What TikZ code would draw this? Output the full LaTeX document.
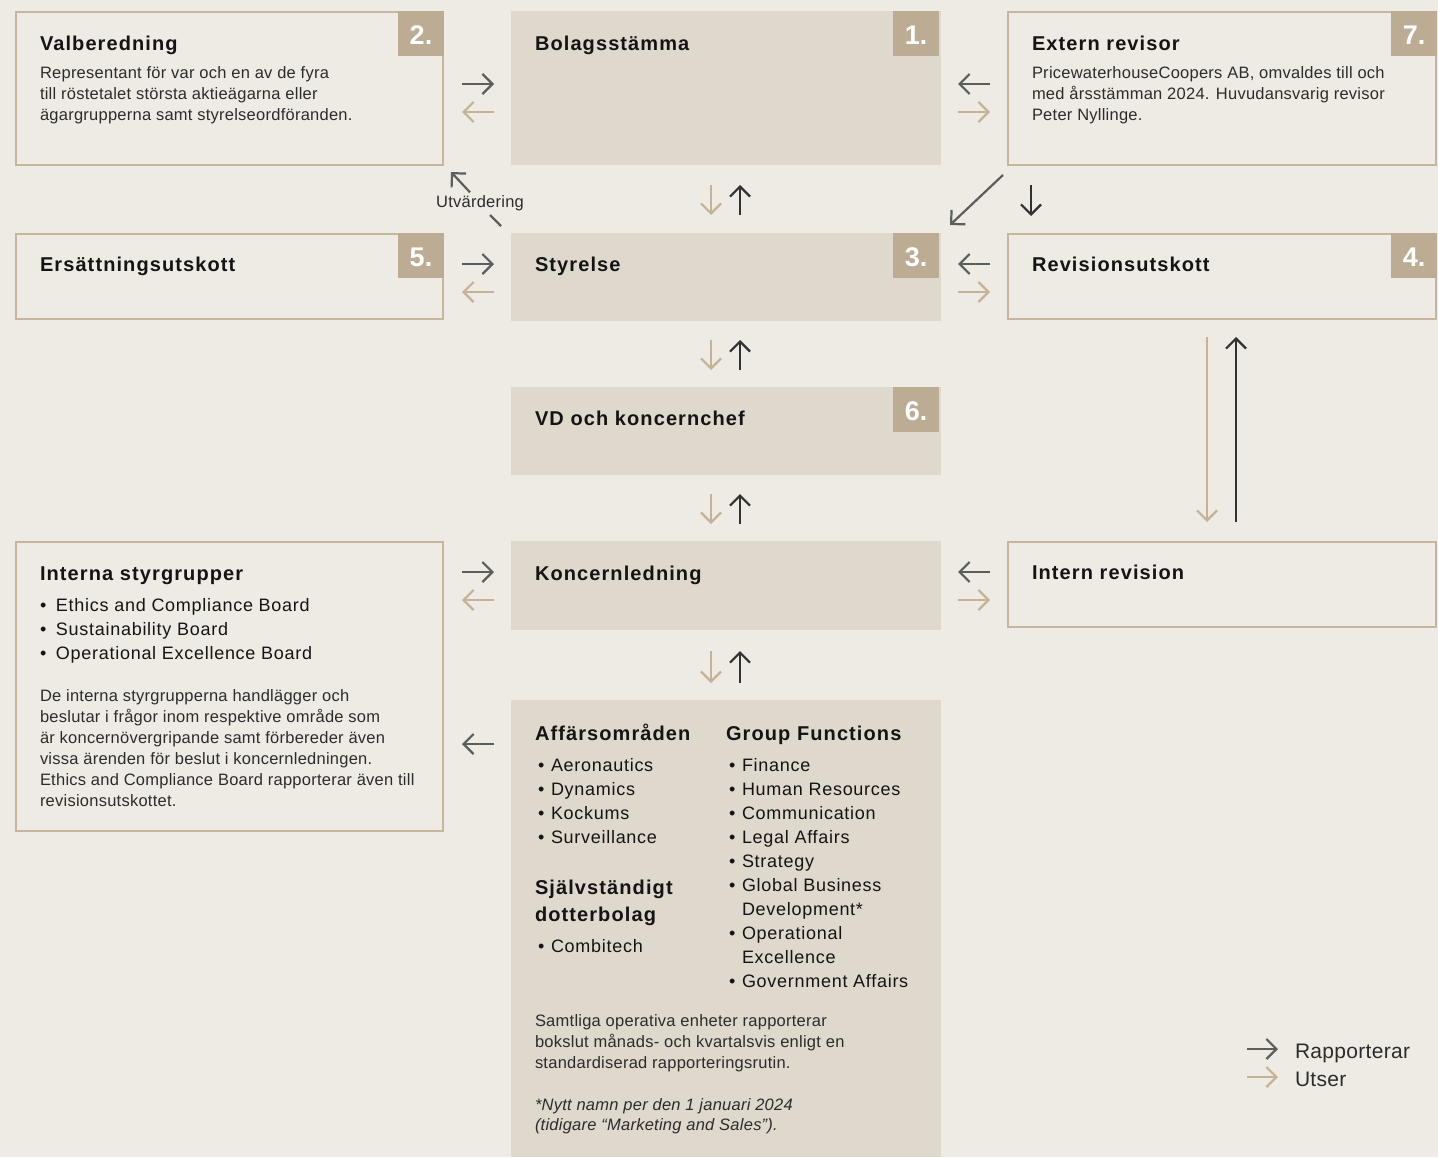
\documentclass[tikz,border=0pt]{standalone}
\usepackage{fontspec}
\setmainfont{Liberation Sans}
\newfontfamily\bodyf[LetterSpace=1.5]{Liberation Sans}
\newfontfamily\listf[LetterSpace=4]{Liberation Sans}
\newfontfamily\ttlf[LetterSpace=5.5]{Liberation Sans}
\usetikzlibrary{arrows.meta,calc}
\definecolor{bgc}{HTML}{EEEBE5}
\definecolor{fillc}{HTML}{DED8CD}
\definecolor{borderc}{HTML}{C6B69D}
\definecolor{badgec}{HTML}{BCAC93}
\definecolor{repc}{HTML}{5A5E5D}
\definecolor{repdark}{HTML}{303131}
\definecolor{ovsc}{HTML}{C4B397}
\definecolor{ttlc}{HTML}{141414}
\definecolor{bodyc}{HTML}{2C2C2C}
\newcommand\bul[1][14pt]{\makebox[#1][l]{\textbullet}}
\begin{document}
\begin{tikzpicture}[x=1pt,y=-1pt,
 every node/.style={inner sep=0pt,outer sep=0pt},
 obox/.style={draw=borderc,line width=2pt,fill=bgc,anchor=north west,minimum width=427pt},
 fbox/.style={fill=fillc,anchor=north west,minimum width=430pt},
 badge/.style={fill=badgec,text=white,anchor=north east,minimum width=46pt,minimum height=45pt,text height=22pt,text depth=0pt,font=\fontsize{27}{27}\selectfont\bfseries},
 ttl/.style={anchor=base west,text=ttlc,font=\ttlf\fontsize{20}{27}\selectfont\bfseries},
 body/.style={anchor=north west,align=left,text=bodyc,font=\bodyf\fontsize{16.5}{21}\selectfont},
 lst/.style={anchor=north west,align=left,text=ttlc,font=\listf\fontsize{18}{24}\selectfont},
 rep/.style={draw=repc,line width=2.2pt,-{Straight Barb[length=10pt,width=20pt]}},
 repd/.style={rep,draw=repdark},
 ovs/.style={rep,draw=ovsc},
]
\useasboundingbox[fill=bgc] (0,0) rectangle (1438,1157);

% ---- boxes
\node[obox,minimum height=153pt] (valb) at (16,12) {};
\node[fbox,minimum height=154pt] (bolag) at (511,11) {};
\node[obox,minimum width=428pt,minimum height=153pt] (extern) at (1008,12) {};
\node[obox,minimum height=85pt] (ers) at (16,234) {};
\node[fbox,minimum height=88pt] (styr) at (511,233) {};
\node[obox,minimum width=428pt,minimum height=85pt] (revu) at (1008,234) {};
\node[fbox,minimum height=88pt] (vd) at (511,387) {};
\node[obox,minimum height=289pt] (interna) at (16,542) {};
\node[fbox,minimum height=89pt] (koncl) at (511,541) {};
\node[obox,minimum width=428pt,minimum height=85pt] (intrev) at (1008,542) {};
\node[fbox,minimum height=457pt] (ops) at (511,700) {};

% ---- badges
\node[badge] (b2) at (444,11) {2.};
\node[badge] (b1) at (939,11) {1.};
\node[badge] (b7) at (1437,11) {7.};
\node[badge] (b5) at (444,233) {5.};
\node[badge] (b3) at (939,233) {3.};
\node[badge] (b4) at (1437,233) {4.};
\node[badge] (b6) at (939,387) {6.};

% ---- titles
\node[ttl] (t2) at (40,50) {Valberedning};
\node[ttl] (t1) at (535,50) {Bolagsstämma};
\node[ttl] (t7) at (1032,50) {Extern revisor};
\node[ttl] (t5) at (40,271) {Ersättningsutskott};
\node[ttl] (t3) at (535,271) {Styrelse};
\node[ttl] (t4) at (1032,271) {Revisionsutskott};
\node[ttl] (t6) at (535,425) {VD och koncernchef};
\node[ttl] (tis) at (40,580) {Interna styrgrupper};
\node[ttl] (tkl) at (535,580) {Koncernledning};
\node[ttl] (tir) at (1032,579) {Intern revision};
\node[ttl] (taf) at (535,740) {Affärsområden};
\node[ttl] (tgf) at (726,740) {Group Functions};

% ---- body texts
\node[body] (valbtxt) at (40,65) {\rule{0pt}{13pt}Representant för var och en av de fyra\\
till röstetalet största aktieägarna eller\\
ägargrupperna samt styrelseordföranden.};
\node[body] (exttxt) at (1032,65) {\rule{0pt}{13pt}PricewaterhouseCoopers AB, omvaldes till och\\
med årsstämman 2024. Huvudansvarig revisor\\
Peter Nyllinge.};
\node[lst] (islist) at (40,597) {\rule{0pt}{14pt}\bul[16pt]Ethics and Compliance Board\\
\bul[16pt]Sustainability Board\\
\bul[16pt]Operational Excellence Board};
\node[body] (istxt) at (40,688) {\rule{0pt}{13pt}De interna styrgrupperna handlägger och\\
beslutar i frågor inom respektive område som\\
är koncernövergripande samt förbereder även\\
vissa ärenden för beslut i koncernledningen.\\
Ethics and Compliance Board rapporterar även till\\
revisionsutskottet.};
\node[lst] (aflist) at (538,757) {\rule{0pt}{14pt}\bul[13pt]Aeronautics\\
\bul[13pt]Dynamics\\
\bul[13pt]Kockums\\
\bul[13pt]Surveillance};
\node[ttl,anchor=north west,align=left] (tsd) at (535,878) {\rule{0pt}{16pt}Självständigt\\dotterbolag};
\node[lst] (sdlist) at (538,938) {\rule{0pt}{14pt}\bul[13pt]Combitech};
\node[lst] (gflist) at (729,757) {\rule{0pt}{14pt}\bul[13pt]Finance\\
\bul[13pt]Human Resources\\
\bul[13pt]Communication\\
\bul[13pt]Legal Affairs\\
\bul[13pt]Strategy\\
\bul[13pt]Global Business\\
\hspace*{13pt}Development*\\
\bul[13pt]Operational\\
\hspace*{13pt}Excellence\\
\bul[13pt]Government Affairs};
\node[body] (opstxt) at (535,1013) {\rule{0pt}{13pt}Samtliga operativa enheter rapporterar\\
bokslut månads- och kvartalsvis enligt en\\
standardiserad rapporteringsrutin.};
\node[body,font=\bodyf\fontsize{16.5}{20}\selectfont\itshape] (opsnote) at (535,1097) {\rule{0pt}{13pt}*Nytt namn per den 1 januari 2024\\
(tidigare “Marketing and Sales”).};

% ---- horizontal connectors, left column
\draw[rep] ($(valb.north east)+(19,72)$) -- ($(bolag.north west)+(-17,73)$);
\draw[ovs] ($(bolag.north west)+(-17,101)$) -- ($(valb.north east)+(19,100)$);
\draw[rep] ($(ers.north east)+(19,30)$) -- ($(styr.north west)+(-17,31)$);
\draw[ovs] ($(styr.north west)+(-17,59)$) -- ($(ers.north east)+(19,58)$);
\draw[rep] ($(interna.north east)+(19,30)$) -- ($(koncl.north west)+(-17,31)$);
\draw[ovs] ($(koncl.north west)+(-17,59)$) -- ($(interna.north east)+(19,58)$);
\draw[rep] ($(ops.north west)+(-17,44)$) -- ($(interna.north east)+(19,202)$);

% ---- horizontal connectors, right column
\draw[rep] ($(extern.north west)+(-18,72)$) -- ($(bolag.north east)+(17,73)$);
\draw[ovs] ($(bolag.north east)+(17,101)$) -- ($(extern.north west)+(-18,100)$);
\draw[rep] ($(revu.north west)+(-18,30)$) -- ($(styr.north east)+(17,31)$);
\draw[ovs] ($(styr.north east)+(17,59)$) -- ($(revu.north west)+(-18,58)$);
\draw[rep] ($(intrev.north west)+(-18,30)$) -- ($(koncl.north east)+(17,31)$);
\draw[ovs] ($(koncl.north east)+(17,59)$) -- ($(intrev.north west)+(-18,58)$);

% ---- vertical connectors, centre column
\draw[ovs] ($(bolag.south)+(-15,20)$) -- ($(styr.north)+(-15,-18)$);
\draw[repd] ($(styr.north)+(14,-18)$) -- ($(bolag.south)+(14,20)$);
\draw[ovs] ($(styr.south)+(-15,19)$) -- ($(vd.north)+(-15,-17)$);
\draw[repd] ($(vd.north)+(14,-17)$) -- ($(styr.south)+(14,19)$);
\draw[ovs] ($(vd.south)+(-15,19)$) -- ($(koncl.north)+(-15,-17)$);
\draw[repd] ($(koncl.north)+(14,-17)$) -- ($(vd.south)+(14,19)$);
\draw[ovs] ($(koncl.south)+(-15,21)$) -- ($(ops.north)+(-15,-17)$);
\draw[repd] ($(ops.north)+(14,-17)$) -- ($(koncl.south)+(14,21)$);

% ---- external auditor and internal audit
\draw[rep] ($(extern.south west)+(-5,10)$) -- ($(styr.north east)+(9,-8)$);
\draw[repd] ($(extern.south west)+(23,20)$) -- ($(revu.north west)+(23,-18)$);
\draw[ovs] ($(revu.south)+(-15,18)$) -- ($(intrev.north)+(-15,-20)$);
\draw[repd] ($(intrev.north)+(14,-20)$) -- ($(revu.south)+(14,18)$);

% ---- Utvärdering
\node[text=bodyc,font=\bodyf\fontsize{16.5}{20}\selectfont] (utv) at (480,203) {Utvärdering};
\coordinate (utvA) at (501,226);
\coordinate (utvB) at (490,215);
\draw[draw=repc,line width=2.2pt] (utvA) -- (utvB);
\draw[rep] ($(utv.north)+(-10,-3)$) -- ($(valb.south east)+(8,7)$);

% ---- legend
\node[anchor=base west,text=bodyc,font=\bodyf\fontsize{21}{25}\selectfont] (legR) at (1295,1058) {Rapporterar};
\node[anchor=base west,text=bodyc,font=\bodyf\fontsize{21}{25}\selectfont] (legU) at (1295,1086) {Utser};
\draw[rep] ($(legR.base west)+(-48,-9)$) -- ($(legR.base west)+(-17,-9)$);
\draw[ovs] ($(legU.base west)+(-48,-9)$) -- ($(legU.base west)+(-17,-9)$);
\end{tikzpicture}
\end{document}
